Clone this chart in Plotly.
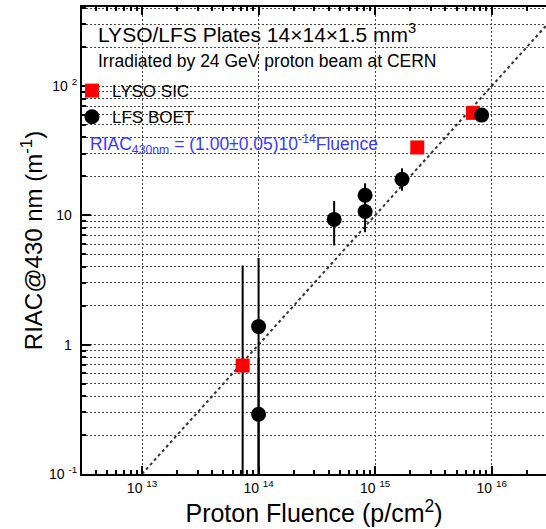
import plotly.graph_objects as go

# ---------------- data ----------------
lyso_name = "LYSO SIC"
lyso_fluence = [7.3e13, 2.3e15, 6.9e15]
lyso_riac = [0.69, 33.5, 62.0]
lyso_err_plus = [3.4, 0.0, 0.0]
lyso_err_minus = [0.68, 0.0, 0.0]

lfs_name = "LFS BOET"
lfs_fluence = [1.0e14, 1.0e14, 4.45e14, 8.2e14, 8.2e14, 1.7e15, 8.2e15]
lfs_riac = [1.38, 0.29, 9.3, 10.7, 14.3, 19.0, 59.6]
lfs_err_plus = [3.3, 0.5, 3.6, 3.3, 3.4, 4.1, 0.0]
lfs_err_minus = [1.37, 0.285, 3.45, 3.3, 3.4, 3.5, 0.0]

fit_coef = 1.00e-14
fit_fluence = [1e13, 3e16]
fit_riac = [fit_coef * f for f in fit_fluence]

x_tickvals = [1e13, 1e14, 1e15, 1e16]
x_ticktext = ["10 <sup>13</sup>", "10 <sup>14</sup>", "10 <sup>15</sup>", "10 <sup>16</sup>"]
y_tickvals = [0.1, 1, 10, 100]
ghost = "<sup><span style='color:rgba(0,0,0,0)'>2</span></sup>"
y_ticktext = ["10 <sup>-1</sup>", "1" + ghost, "10" + ghost, "10 <sup>2</sup>"]

x_minor = [m * 10 ** e for e in range(12, 17) for m in range(2, 10)]
y_minor = [m * 10 ** e for e in range(-1, 3) for m in range(2, 10)]

FONT = "Liberation Sans, Arial, sans-serif"

fig = go.Figure()

fig.add_trace(go.Scatter(
    x=fit_fluence, y=fit_riac, mode="lines",
    line=dict(color="#333333", width=2, dash="dot"),
    showlegend=False, hoverinfo="skip"))

fig.add_trace(go.Scatter(
    x=lyso_fluence, y=lyso_riac, mode="markers", name=lyso_name,
    marker=dict(symbol="square", size=14, color="#ff0000"),
    error_y=dict(type="data", symmetric=False, array=lyso_err_plus,
                 arrayminus=lyso_err_minus, color="black", thickness=2, width=0),
    legend="legend"))

fig.add_trace(go.Scatter(
    x=lfs_fluence, y=lfs_riac, mode="markers", name=lfs_name,
    marker=dict(symbol="circle", size=15, color="black"),
    error_y=dict(type="data", symmetric=False, array=lfs_err_plus,
                 arrayminus=lfs_err_minus, color="black", thickness=2, width=0),
    legend="legend2"))

grid_style = dict(gridcolor="#444444", gridwidth=1, griddash="2px,2px")

fig.update_layout(
    width=546, height=529,
    margin=dict(l=82, r=0, t=7, b=55),
    paper_bgcolor="white", plot_bgcolor="white",
    font=dict(family=FONT, color="black"),
    xaxis=dict(
        type="log", range=[12.485, 16.466],
        tickmode="array", tickvals=x_tickvals, ticktext=x_ticktext,
        tickfont=dict(size=14), ticks="inside", ticklen=8, tickwidth=1.5, tickcolor="black",
        showline=True, linecolor="black", linewidth=2, mirror="ticks",
        showgrid=True, zeroline=False, **grid_style,
        minor=dict(tickmode="array", tickvals=x_minor, ticks="inside", ticklen=4,
                   tickwidth=1.5, tickcolor="black", showgrid=False),
        title=dict(text="Proton Fluence (p/cm<sup>2</sup>)", font=dict(size=25), standoff=3),
    ),
    yaxis=dict(
        type="log", range=[-1, 2.611],
        tickmode="array", tickvals=y_tickvals, ticktext=y_ticktext,
        tickfont=dict(size=14), ticks="inside", ticklen=9, tickwidth=1.5, tickcolor="black",
        showline=True, linecolor="black", linewidth=2, mirror=False,
        showgrid=True, zeroline=False, **grid_style,
        minor=dict(tickmode="array", tickvals=y_minor, ticks="inside", ticklen=4,
                   tickwidth=1.5, tickcolor="black", showgrid=True, **grid_style),
        title=dict(text="RIAC@430 nm (m<sup>-1</sup>)", font=dict(size=24), standoff=0),
    ),
    legend=dict(x=-0.0216, y=0.820, xanchor="left", yanchor="middle",
                bgcolor="rgba(0,0,0,0)", font=dict(size=17), borderwidth=0),
    legend2=dict(x=-0.0216, y=0.764, xanchor="left", yanchor="middle",
                 bgcolor="rgba(0,0,0,0)", font=dict(size=17), borderwidth=0),
    annotations=[
        dict(xref="paper", yref="paper", x=0.030, y=0.944, xanchor="left", yanchor="middle",
             text="LYSO/LFS Plates 14×14×1.5 mm<sup>3</sup>", showarrow=False,
             font=dict(size=21, color="black")),
        dict(xref="paper", yref="paper", x=0.030, y=0.884, xanchor="left", yanchor="middle",
             text="Irradiated by 24 GeV proton beam at CERN", showarrow=False,
             font=dict(size=17.5, color="black")),
        dict(xref="paper", yref="paper", x=0.012, y=0.7045, xanchor="left", yanchor="middle",
             text="RIAC<sub>430nm</sub> = (1.00±0.05)10<sup>-14</sup>Fluence", showarrow=False,
             font=dict(size=17.5, color="#3a3aff")),
    ],
)

fig.write_html("out.html", config={"displayModeBar": False},
               post_script="document.body.style.margin='0px';")
